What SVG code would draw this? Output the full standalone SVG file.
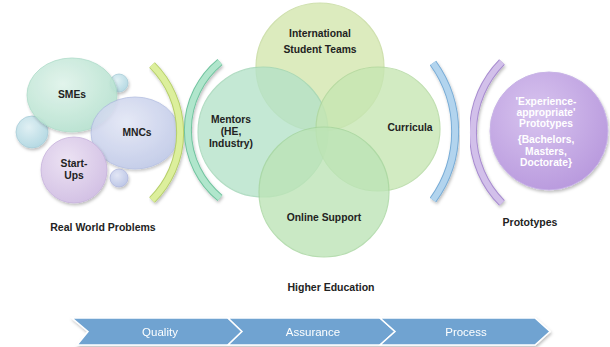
<svg xmlns="http://www.w3.org/2000/svg" width="610" height="347" viewBox="0 0 610 347">
<style>
text{font-family:"Liberation Sans",Arial,sans-serif;font-weight:bold;font-size:10.3px;fill:#222;text-anchor:middle}
.w{fill:#fff}
.lbl{font-size:10.5px}
.ch{fill:#6fa3d1;stroke:#fff;stroke-width:1.5}
.chT{fill:#fff;font-weight:normal;font-size:11.5px}
.v{stroke-width:1.2;opacity:0.78}
</style>
<defs>
<radialGradient id="gs" cx="0.4" cy="0.35" r="0.7"><stop offset="0" stop-color="#dff3ea"/><stop offset="1" stop-color="#b3e0cd"/></radialGradient>
<radialGradient id="gm" cx="0.4" cy="0.35" r="0.7"><stop offset="0" stop-color="#e2e6f5"/><stop offset="1" stop-color="#bcc6e6"/></radialGradient>
<radialGradient id="gu" cx="0.4" cy="0.35" r="0.7"><stop offset="0" stop-color="#ece2f3"/><stop offset="1" stop-color="#d2c0e4"/></radialGradient>
<radialGradient id="gb" cx="0.4" cy="0.35" r="0.7"><stop offset="0" stop-color="#e0f0f4"/><stop offset="1" stop-color="#b3d8e2"/></radialGradient>
<radialGradient id="gp" cx="0.4" cy="0.35" r="0.75"><stop offset="0" stop-color="#d8c4ef"/><stop offset="1" stop-color="#b696dc"/></radialGradient>
<filter id="sh" x="-10%" y="-10%" width="130%" height="140%"><feDropShadow dx="1" dy="2" stdDeviation="1.5" flood-opacity="0.25"/></filter>
</defs>

<g id="left-cluster">
<g id="sm1"><circle cx="119" cy="83" r="9" fill="url(#gb)" stroke="#a8cdd8" stroke-width="0.8" filter="url(#sh)"/></g>
<g id="sm2"><circle cx="32" cy="132" r="16" fill="url(#gb)" stroke="#a8cdd8" stroke-width="0.8" filter="url(#sh)"/></g>
<g id="smes"><ellipse cx="72" cy="95" rx="45" ry="37" fill="url(#gs)" stroke="#a6d8c4" stroke-width="0.8" opacity="0.9" filter="url(#sh)"/><text x="72" y="98">SMEs</text></g>
<g id="mncs"><ellipse cx="135" cy="133" rx="44" ry="36" fill="url(#gm)" stroke="#aab6de" stroke-width="0.8" opacity="0.88" filter="url(#sh)"/><text x="137" y="136">MNCs</text></g>
<g id="startups"><circle cx="74" cy="170" r="33" fill="url(#gu)" stroke="#c6b2dc" stroke-width="0.8" filter="url(#sh)"/><text x="74" y="167">Start-</text><text x="74" y="179">Ups</text></g>
<g id="sm3"><circle cx="119" cy="178" r="9" fill="url(#gm)" stroke="#b0b8de" stroke-width="0.8" filter="url(#sh)"/></g>
<text x="103" y="231" class="lbl">Real World Problems</text>
</g>

<g id="brackets" fill="none" stroke-linecap="butt">
<path d="M152,65 A95,95 0 0 1 152,200" stroke="#b6cf6a" stroke-width="8" filter="url(#sh)"/>
<path d="M152,65 A95,95 0 0 1 152,200" stroke="#dcef9c" stroke-width="6"/>
<path d="M220,62 A88,88 0 0 0 220,198" stroke="#72c4a0" stroke-width="8" filter="url(#sh)"/>
<path d="M220,62 A88,88 0 0 0 220,198" stroke="#b0e6cc" stroke-width="6"/>
<path d="M433,63 A117,117 0 0 1 433,200" stroke="#78acd6" stroke-width="8" filter="url(#sh)"/>
<path d="M433,63 A117,117 0 0 1 433,200" stroke="#b2d4ee" stroke-width="6"/>
<path d="M502,62 A100,100 0 0 0 502,203" stroke="#a88cd0" stroke-width="8" filter="url(#sh)"/>
<path d="M502,62 A100,100 0 0 0 502,203" stroke="#d2c0ea" stroke-width="6"/>
</g>

<g id="venn">
<g id="teams"><circle cx="320" cy="67" r="64" class="v" fill="#d3e6ad" stroke="#c2d898"/></g>
<g id="mentors"><circle cx="263" cy="132" r="65" class="v" fill="#b4e2c8" stroke="#9ed4b4"/></g>
<g id="curricula"><circle cx="378" cy="129" r="62" class="v" fill="#c6e6b2" stroke="#aed69a"/></g>
<g id="online"><circle cx="324" cy="192" r="65" class="v" fill="#bce4b6" stroke="#a4d49c"/></g>
<text x="320" y="37">International</text>
<text x="320" y="53">Student Teams</text>
<text x="231" y="123">Mentors</text>
<text x="231" y="135">(HE,</text>
<text x="231" y="147">Industry)</text>
<text x="410" y="131">Curricula</text>
<text x="324" y="221">Online Support</text>
<text x="331" y="291" class="lbl">Higher Education</text>
</g>

<g id="prototypes">
<circle cx="549" cy="131" r="59" fill="url(#gp)" stroke="#c8b4e6" stroke-width="1" filter="url(#sh)"/>
<text x="546" y="105" class="w">'Experience-</text>
<text x="546" y="116" class="w">appropriate'</text>
<text x="546" y="127" class="w">Prototypes</text>
<text x="546" y="143" class="w">{Bachelors,</text>
<text x="546" y="155" class="w">Masters,</text>
<text x="546" y="166" class="w">Doctorate}</text>
<text x="530" y="226" class="lbl">Prototypes</text>
</g>

<g id="process" filter="url(#sh)">
<g id="quality"><polygon class="ch" points="72,318 228,318 242,331.5 228,345 77,345 88,331.5"/><text x="160" y="336" class="chT">Quality</text></g>
<g id="assurance"><polygon class="ch" points="228,318 380,318 395,331.5 380,345 228,345 242,331.5"/><text x="313" y="336" class="chT">Assurance</text></g>
<g id="processg"><polygon class="ch" points="380,318 535,318 550,331.5 535,345 380,345 395,331.5"/><text x="466" y="336" class="chT">Process</text></g>
</g>
</svg>
